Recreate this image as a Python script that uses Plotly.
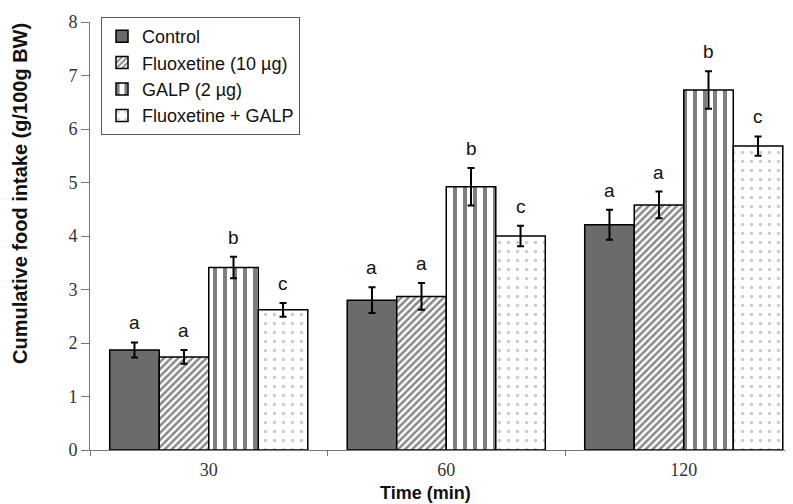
import plotly.graph_objects as go

times = ["30", "60", "120"]
series = ["Control", "Fluoxetine (10 µg)", "GALP (2 µg)", "Fluoxetine + GALP"]
control = [1.87, 2.80, 4.21]
control_err = [0.14, 0.24, 0.28]
fluox = [1.74, 2.87, 4.58]
fluox_err = [0.13, 0.25, 0.25]
galp = [3.41, 4.92, 6.73]
galp_err = [0.20, 0.35, 0.35]
combo = [2.62, 4.00, 5.68]
combo_err = [0.13, 0.19, 0.18]
letters = [["a", "a", "a"], ["a", "a", "a"], ["b", "b", "b"], ["c", "c", "c"]]

values = [control, fluox, galp, combo]
errors = [control_err, fluox_err, galp_err, combo_err]
fills = [
    dict(color="#6b6b6b"),
    dict(color="white", pattern=dict(shape="/", fgcolor="#111", bgcolor="white", size=5, solidity=0.5)),
    dict(color="white", pattern=dict(shape="|", fgcolor="black", bgcolor="white", size=10, solidity=0.4)),
    dict(color="white", pattern=dict(shape=".", fgcolor="#999", bgcolor="white", size=9, solidity=0.12)),
]

bargap = 0.166
fig = go.Figure()
for name, v, e, f in zip(series, values, errors, fills):
    fig.add_trace(go.Bar(
        x=times, y=v, name=name, legendgroup=name,
        marker=dict(line=dict(color="black", width=1.5), **f),
        error_y=dict(type="data", array=e, color="black", thickness=2, width=3.5),
    ))

n = len(series)
w = (1 - bargap) / n
for j in range(n):
    for i in range(len(times)):
        fig.add_annotation(
            x=i + (j - (n - 1) / 2) * w, y=values[j][i] + errors[j][i],
            xref="x", yref="y", text=letters[j][i], showarrow=False,
            yanchor="bottom", yshift=7,
            font=dict(family="Liberation Sans, Arial", size=19, color="#111"),
        )

# page body has an 8px offset; layout numbers below are screen pixels
OFF = 8
W, H = 793, 504
sx0, sx1, sy0, sy1 = 90, 793, 22, 450  # plot area on screen
L, R = sx0 - OFF, W - (sx1 - OFF)
T, B = sy0 - OFF, H - (sy1 - OFF)
pw, ph = sx1 - sx0, sy1 - sy0


def px(x):
    return (x - sx0) / pw


def py(y):
    return (sy1 - y) / ph


fig.add_annotation(
    x=px(425), y=py(481), xref="paper", yref="paper",
    text="<b>Time (min)</b>", showarrow=False, xanchor="center", yanchor="top",
    font=dict(family="Liberation Sans, Arial", size=18, color="#111"),
)
fig.add_annotation(
    x=px(20), y=py(194), xref="paper", yref="paper",
    text="<b>Cumulative food intake (g/100g BW)</b>", showarrow=False, textangle=-90,
    xanchor="center", yanchor="middle",
    font=dict(family="Liberation Sans, Arial", size=20, color="#111"),
)

fig.update_layout(
    width=W, height=H,
    margin=dict(l=L, r=R, t=T, b=B, autoexpand=False),
    barmode="group", bargap=bargap, bargroupgap=0,
    plot_bgcolor="white", paper_bgcolor="white",
    showlegend=True,
    legend=dict(
        x=px(101), y=py(17), xanchor="left", yanchor="top",
        bgcolor="white", bordercolor="#555", borderwidth=1,
        font=dict(family="Liberation Sans, Arial", size=18, color="#111"),
        tracegroupgap=0, itemwidth=30,
    ),
    xaxis=dict(
        type="category", range=[-0.5, 2.46], automargin=False,
        showline=True, linecolor="#777", linewidth=1,
        ticks="outside", tickson="boundaries", ticklen=5, tickcolor="#777",
        tickfont=dict(family="Liberation Serif, Times New Roman", size=18, color="#333"),
        ticklabelstandoff=3,
        showgrid=False,
    ),
    yaxis=dict(
        range=[0, 8], dtick=1, automargin=False,
        showline=True, linecolor="#777", linewidth=1,
        ticks="outside", ticklen=8, tickcolor="#777",
        tickfont=dict(family="Liberation Serif, Times New Roman", size=18, color="#333"),
        showgrid=False, zeroline=False,
    ),
)

fig.write_html("out.html")
